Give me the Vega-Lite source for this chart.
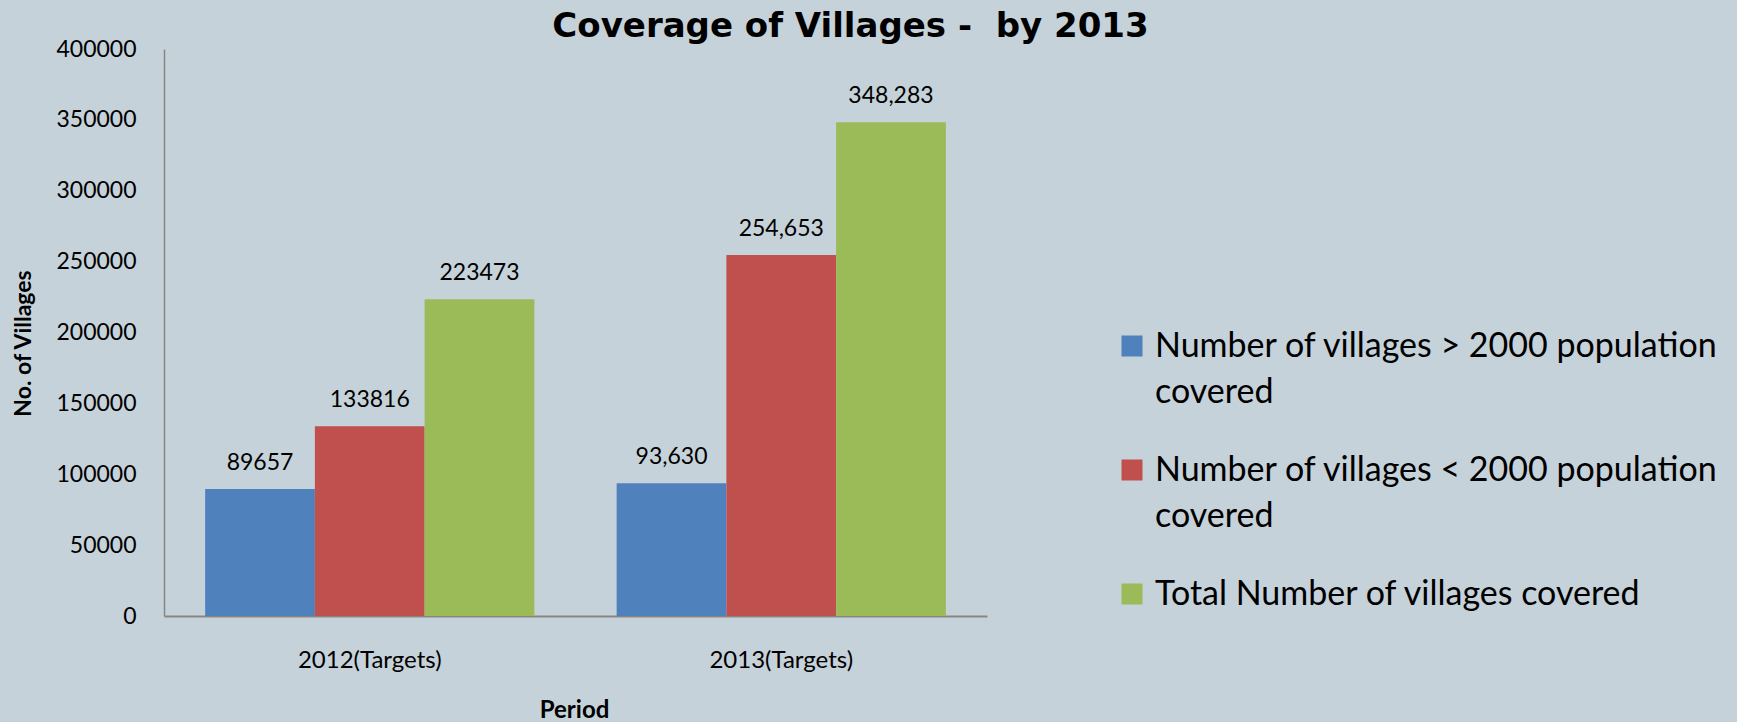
{
  "$schema": "https://vega.github.io/schema/vega-lite/v6.json",
  "width": 823,
  "height": 567,
  "autosize": {"type": "none"},
  "padding": {"left": 164, "top": 49, "right": 750, "bottom": 106},
  "background": "#C6D2D9",
  "title": {
    "text": "Coverage of Villages -\u00a0 by 2013",
    "anchor": "middle",
    "frame": "group",
    "dx": 275,
    "baseline": "alphabetic",
    "offset": -33,
    "font": "DejaVu Sans",
    "fontSize": 34,
    "fontWeight": "bold",
    "color": "#000000"
  },
  "data": {
    "values": [
      {"period": "2012(Targets)", "series": "Number of villages > 2000 population covered", "value": 89657, "label": "89657"},
      {"period": "2012(Targets)", "series": "Number of villages < 2000 population covered", "value": 133816, "label": "133816"},
      {"period": "2012(Targets)", "series": "Total Number of villages covered", "value": 223473, "label": "223473"},
      {"period": "2013(Targets)", "series": "Number of villages > 2000 population covered", "value": 93630, "label": "93,630"},
      {"period": "2013(Targets)", "series": "Number of villages < 2000 population covered", "value": 254653, "label": "254,653"},
      {"period": "2013(Targets)", "series": "Total Number of villages covered", "value": 348283, "label": "348,283"}
    ]
  },
  "encoding": {
    "x": {
      "field": "period",
      "type": "nominal",
      "scale": {"paddingInner": 0.2, "paddingOuter": 0.1},
      "axis": {
        "title": "Period",
        "labelAngle": 0,
        "ticks": false,
        "tickSize": 0,
        "labelPadding": 67,
        "labelBaseline": "alphabetic",
        "labelFont": "Lato",
        "labelFontSize": 24,
        "labelColor": "#000000",
        "domainColor": "#868686",
        "domainWidth": 2,
        "titleFont": "Lato",
        "titleFontSize": 24,
        "titleFontWeight": "bold",
        "titleColor": "#000000",
        "titleX": 410,
        "titleY": 101,
        "titleBaseline": "alphabetic",
        "titleAnchor": null
      }
    },
    "xOffset": {
      "field": "series",
      "type": "nominal",
      "scale": {"domain": ["Number of villages > 2000 population covered", "Number of villages < 2000 population covered", "Total Number of villages covered"], "paddingInner": 0, "paddingOuter": 0}
    },
    "y": {
      "field": "value",
      "type": "quantitative",
      "scale": {"domain": [0, 400000], "nice": false},
      "axis": {
        "title": "No. of Villages",
        "values": [0, 50000, 100000, 150000, 200000, 250000, 300000, 350000, 400000],
        "format": "d",
        "grid": false,
        "ticks": false,
        "tickSize": 0,
        "labelPadding": 28,
        "labelOffset": 16,
        "labelFont": "Lato",
        "labelFontSize": 23,
        "labelColor": "#000000",
        "domainColor": "#868686",
        "domainWidth": 1.5,
        "titleFont": "Lato",
        "titleFontSize": 23,
        "titleFontWeight": "bold",
        "titleColor": "#000000",
        "titleX": -141,
        "titleY": 294,
        "titleAngle": -90,
        "titleAlign": "center",
        "titleBaseline": "middle"
      }
    }
  },
  "layer": [
    {
      "mark": {"type": "bar"},
      "encoding": {
        "color": {
          "field": "series",
          "type": "nominal",
          "scale": {
            "domain": ["Number of villages > 2000 population covered", "Number of villages < 2000 population covered", "Total Number of villages covered"],
            "range": ["#4F81BD", "#C0504D", "#9BBB59"]
          },
          "legend": {
            "title": null,
            "orient": "none",
            "legendX": 951,
            "legendY": 280,
            "symbolType": "square",
            "symbolSize": 441,
            "symbolStrokeWidth": 0,
            "labelFont": "Lato",
            "labelFontSize": 34,
            "labelColor": "#000000",
            "labelOffset": 6,
            "labelLimit": 800,
            "labelBaseline": "top",
            "rowPadding": 43,
            "labelExpr": "indexof(datum.label, 'population covered') >= 0 ? [replace(datum.label, ' covered', ''), 'covered'] : datum.label"
          }
        }
      }
    },
    {
      "mark": {"type": "text", "baseline": "alphabetic", "dy": -19, "font": "Lato", "fontSize": 23, "color": "#000000"},
      "encoding": {
        "text": {"field": "label", "type": "nominal"}
      }
    }
  ],
  "config": {
    "view": {"stroke": null},
    "style": {"guide-label": {"lineHeight": 46, "dy": -16}}
  }
}
